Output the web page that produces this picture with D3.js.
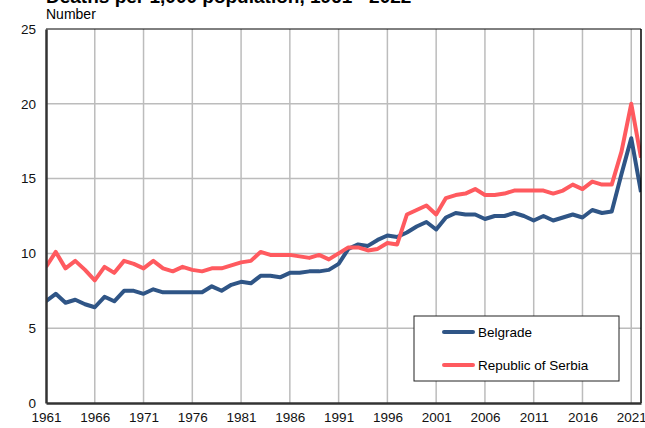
<!DOCTYPE html>
<html>
<head>
<meta charset="utf-8">
<script src="https://cdn.jsdelivr.net/npm/d3@7"></script>
<style>
  body { margin: 0; background: #fff; }
  svg { display: block; font-family: 'Liberation Sans', Arial, sans-serif; }
</style>
</head>
<body>
<svg id="chart" width="645" height="428"></svg>
<script>
// deaths per 1,000 population
const years = d3.range(1961, 2023)
const belgrade = [6.8, 7.3, 6.7, 6.9, 6.6, 6.4, 7.1, 6.8, 7.5, 7.5,
  7.3, 7.6, 7.4, 7.4, 7.4, 7.4, 7.4, 7.8, 7.5, 7.9,
  8.1, 8.0, 8.5, 8.5, 8.4, 8.7, 8.7, 8.8, 8.8, 8.9,
  9.3, 10.3, 10.6, 10.5, 10.9, 11.2, 11.1, 11.4, 11.8, 12.1,
  11.6, 12.4, 12.7, 12.6, 12.6, 12.3, 12.5, 12.5, 12.7, 12.5,
  12.2, 12.5, 12.2, 12.4, 12.6, 12.4, 12.9, 12.7, 12.8, 15.3,
  17.7, 14.1]
const serbia = [9.1, 10.1, 9.0, 9.5, 8.9, 8.2, 9.1, 8.7, 9.5, 9.3,
  9.0, 9.5, 9.0, 8.8, 9.1, 8.9, 8.8, 9.0, 9.0, 9.2,
  9.4, 9.5, 10.1, 9.9, 9.9, 9.9, 9.8, 9.7, 9.9, 9.6,
  10.0, 10.4, 10.4, 10.2, 10.3, 10.7, 10.6, 12.6, 12.9, 13.2,
  12.6, 13.7, 13.9, 14.0, 14.3, 13.9, 13.9, 14.0, 14.2, 14.2,
  14.2, 14.2, 14.0, 14.2, 14.6, 14.3, 14.8, 14.6, 14.6, 16.8,
  20.0, 16.4]
const yTicks = [0, 5, 10, 15, 20, 25]
const xTicks = d3.range(1961, 2022, 5)

const series = [
  {name: 'Belgrade', values: belgrade, color: '#2f5586'},
  {name: 'Republic of Serbia', values: serbia, color: '#ff5a5f'}
]

const svg = d3.select('#chart')
const margin = {left: 46, right: 4, top: 29, bottom: 25}
const W = 645, H = 428

let x = d3.scaleLinear().domain([1961, 2022]).range([margin.left, W - margin.right])
let y = d3.scaleLinear().domain([0, 25]).range([H - margin.bottom, margin.top])

// title (cut off at the top in the original)
svg.append('text')
  .attr('x', 46).attr('y', 3)
  .attr('font-size', 19).attr('font-weight', 'bold')
  .text('Deaths per 1,000 population, 1961 - 2022')

svg.append('text')
  .attr('x', 46).attr('y', 19)
  .attr('font-size', 14)
  .text('Number')

// gridlines
svg.append('g')
  .selectAll('line')
  .data(yTicks.slice(1, -1))
  .join('line')
  .attr('x1', x.range()[0]).attr('x2', x.range()[1])
  .attr('y1', d => y(d)).attr('y2', d => y(d))
  .attr('stroke', '#bcbcbc').attr('stroke-width', 1.5)

svg.append('g')
  .selectAll('line')
  .data(xTicks.slice(1))
  .join('line')
  .attr('x1', d => x(d)).attr('x2', d => x(d))
  .attr('y1', y(0)).attr('y2', y(25))
  .attr('stroke', '#bcbcbc').attr('stroke-width', 1.5)

// lines, clipped to the plot area
svg.append('clipPath').attr('id', 'clip')
  .append('rect')
  .attr('x', x.range()[0]).attr('y', y(25))
  .attr('width', x.range()[1] - x.range()[0])
  .attr('height', y(0) - y(25))

let line = d3.line()
  .x((d, i) => x(years[i]))
  .y(d => y(d))

svg.append('g')
  .attr('clip-path', 'url(#clip)')
  .selectAll('path')
  .data(series)
  .join('path')
  .attr('d', d => line(d.values))
  .attr('fill', 'none')
  .attr('stroke', d => d.color)
  .attr('stroke-width', 4)
  .attr('stroke-linejoin', 'round')

// frame
svg.append('line')
  .attr('x1', x.range()[0]).attr('x2', x.range()[1])
  .attr('y1', y(25)).attr('y2', y(25))
  .attr('stroke', '#000').attr('stroke-width', 1)
svg.append('line')
  .attr('x1', x.range()[1]).attr('x2', x.range()[1])
  .attr('y1', y(25)).attr('y2', y(0))
  .attr('stroke', '#000').attr('stroke-width', 1.5)

// axes
let xAxis = d3.axisBottom(x).tickValues(xTicks).tickFormat(d3.format('d')).tickSize(0).tickPadding(9)
let yAxis = d3.axisLeft(y).tickValues(yTicks).tickSize(0).tickPadding(10)

let gx = svg.append('g').attr('transform', `translate(0,${y(0)})`).call(xAxis)
let gy = svg.append('g').attr('transform', `translate(${x.range()[0]},0)`).call(yAxis)

;[gx, gy].forEach(g => {
  g.selectAll('.domain').attr('stroke', '#333').attr('stroke-width', 2.5)
  g.selectAll('text').attr('font-size', 13.5).attr('fill', '#111')
    .attr('font-family', "'Liberation Sans', Arial, sans-serif")
})

// legend
let legend = svg.append('g')
legend.append('rect')
  .attr('x', 414).attr('y', 316).attr('width', 205).attr('height', 65)
  .attr('fill', '#fff').attr('stroke', '#222').attr('stroke-width', 1)

let items = legend.selectAll('g.item')
  .data(series)
  .join('g')
  .attr('class', 'item')
  .attr('transform', (d, i) => `translate(444,${332 + i * 33})`)

items.append('line')
  .attr('x1', 0).attr('x2', 29)
  .attr('stroke', d => d.color).attr('stroke-width', 4)
  .attr('stroke-linecap', 'round')

items.append('text')
  .attr('x', 34).attr('dy', '0.35em')
  .attr('font-size', 13.5)
  .text(d => d.name)
</script>
</body>
</html>
